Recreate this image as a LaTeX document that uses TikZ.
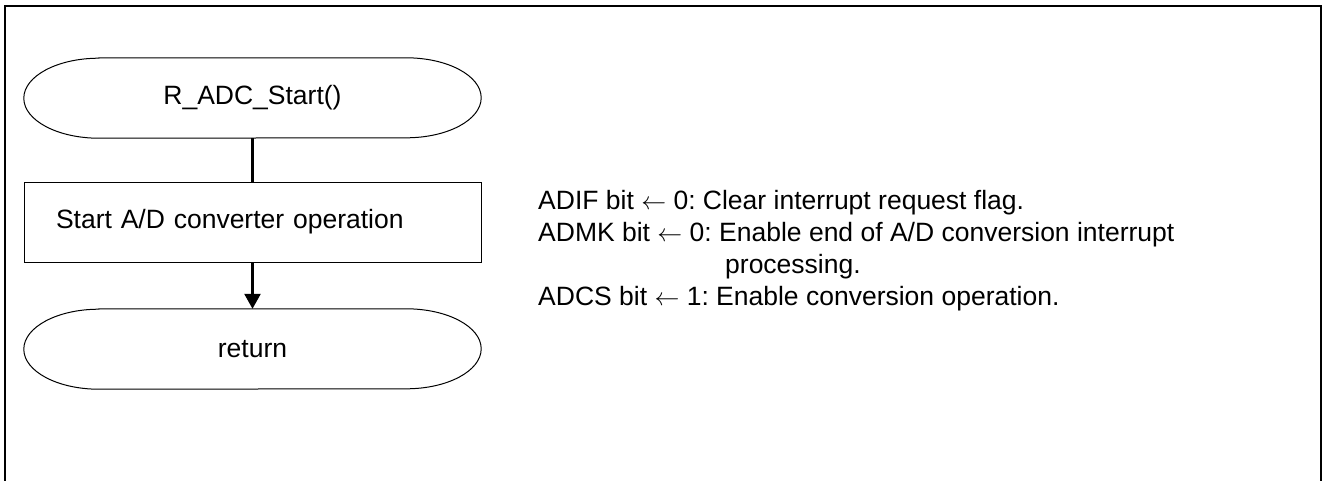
\documentclass[tikz,border=0pt]{standalone}
\usepackage{fontspec}
\setmainfont{Liberation Sans}
\usetikzlibrary{arrows.meta}
\newcommand\larr{\ensuremath{\leftarrow}}
\frenchspacing
\begin{document}
\begin{tikzpicture}[x=1pt,y=1pt,
  txt/.style={font=\fontsize{26.5}{32}\selectfont, inner sep=0pt},
  term/.style={txt, minimum width=457pt, minimum height=80pt},
  proc/.style={txt, draw, line width=1pt, text width=393pt, inner xsep=32pt, inner ysep=0pt, minimum height=80pt, align=left},
  conn/.style={line width=2.5pt},
  outline/.style={line width=1pt},
  frame/.style={line width=2pt}]
\useasboundingbox (0,0) rectangle (1323,-480);
\draw[frame] (5,-482) -- (5,-6) -- (1321,-6) -- (1321,-482);

\node[term] (start) at (252.5,-98) {R\_ADC\_Start()};
\node[proc] (op) at (252.5,-222) {Start A/D converter operation};
\node[term] (ret) at (252.5,-349) {return};

\foreach \n in {start,ret}{
  \draw[outline] ([xshift=75pt]\n.north west) -- ([xshift=-75pt]\n.north east)
    arc[start angle=90,end angle=-90,x radius=75pt,y radius=40pt]
    -- ([xshift=75pt]\n.south west)
    arc[start angle=270,end angle=90,x radius=75pt,y radius=40pt] -- cycle;
}

\draw[conn] (start.south) -- (op.north);
\draw[conn, -{Triangle[length=15pt,width=16pt]}] (op.south) -- (ret.north);

\node[txt, align=left, anchor=north west] (note) at (538,-190.5)
  {ADIF bit \larr{} 0: Clear interrupt request flag.\\
   ADMK bit \larr{} 0: Enable end of A/D conversion interrupt\\
   \hspace*{187pt}processing.\\
   ADCS bit \larr{} 1: Enable conversion operation.};
\end{tikzpicture}
\end{document}
